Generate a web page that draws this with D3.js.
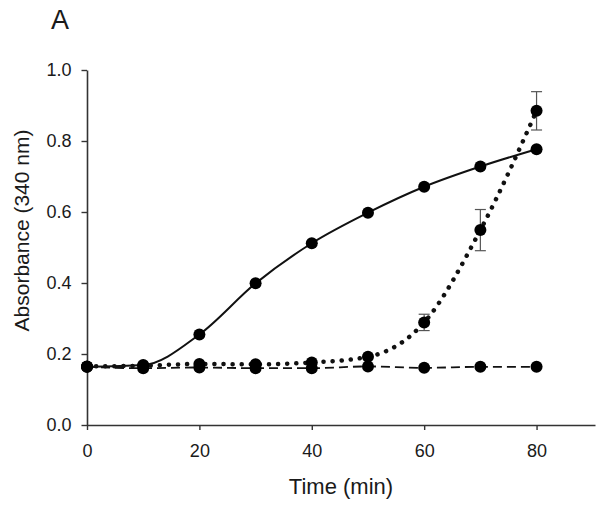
<!DOCTYPE html>
<html>
<head>
<meta charset="utf-8">
<script src="https://cdn.jsdelivr.net/npm/d3@7"></script>
<style>
  html, body { margin: 0; padding: 0; background: #fff; }
  svg { display: block; font-family: "Liberation Sans", Arial, sans-serif; }
</style>
</head>
<body>
<svg id="chart" width="602" height="507"></svg>
<script>
// ---- data ----
const times = [0, 10, 20, 30, 40, 50, 60, 70, 80];
const solidSeries = [0.164, 0.169, 0.255, 0.399, 0.512, 0.598, 0.671, 0.728, 0.777];
const dottedSeries = [0.165, 0.167, 0.172, 0.171, 0.176, 0.192, 0.289, 0.549, 0.885];
const dashedSeries = [0.164, 0.160, 0.162, 0.160, 0.160, 0.165, 0.161, 0.164, 0.164];
const dottedErrors = [null, null, null, null, null, null, 0.023, 0.058, 0.054];
const xTicks = [0, 20, 40, 60, 80];
const yTicks = [0.0, 0.2, 0.4, 0.6, 0.8, 1.0];
const panelLabel = "A";
const xLabel = "Time (min)";
const yLabel = "Absorbance (340 nm)";

// ---- layout ----
const svg = d3.select("#chart");
const mLeft = 87, mRight = 595, mTop = 70, mBottom = 425;
const x = d3.scaleLinear().domain([0, 90.4]).range([mLeft, mRight]);
const y = d3.scaleLinear().domain([0, 1]).range([mBottom, mTop]);

// axes
const xAxis = d3.axisBottom(x).tickValues(xTicks).tickSize(5).tickSizeOuter(0).tickPadding(14.5).tickFormat(d3.format("d"));
const yAxis = d3.axisLeft(y).tickValues(yTicks).tickSize(5.5).tickSizeOuter(0).tickPadding(10).tickFormat(d3.format(".1f"));

const gx = svg.append("g").attr("transform", `translate(0,${mBottom})`).call(xAxis);
const gy = svg.append("g").attr("transform", `translate(${mLeft},0)`).call(yAxis);
[gx, gy].forEach(g => {
  g.selectAll("path.domain").attr("stroke", "#333").attr("stroke-width", 1.6);
  g.selectAll(".tick line").attr("stroke", "#333").attr("stroke-width", 1.4);
  g.selectAll(".tick text").attr("fill", "#1a1a1a").style("font-size", "18px")
    .style("font-family", "'Liberation Sans', Arial, sans-serif");
});

// labels
svg.append("text").attr("x", 51).attr("y", 29.3).text(panelLabel)
  .style("font-size", "27px").attr("fill", "#1a1a1a");
svg.append("text").attr("x", 341).attr("y", 494).attr("text-anchor", "middle")
  .text(xLabel).style("font-size", "22px").attr("fill", "#1a1a1a");
svg.append("text").attr("transform", `translate(28.5,230.5) rotate(-90)`)
  .attr("text-anchor", "middle").text(yLabel).style("font-size", "21px").attr("fill", "#1a1a1a");

// lines
const line = d3.line().x((d, i) => x(times[i])).y(d => y(d)).curve(d3.curveMonotoneX);

svg.append("path").datum(dashedSeries).attr("d", line).attr("fill", "none")
  .attr("stroke", "#111").attr("stroke-width", 1.8).attr("stroke-dasharray", "9 5");
svg.append("path").datum(solidSeries).attr("d", line).attr("fill", "none")
  .attr("stroke", "#111").attr("stroke-width", 2);
svg.append("path").datum(dottedSeries).attr("d", line).attr("fill", "none")
  .attr("stroke", "#111").attr("stroke-width", 4.5).attr("stroke-linecap", "round")
  .attr("stroke-dasharray", "0.1 9");

// error bars
const errData = dottedSeries.map((v, i) => ({t: times[i], v, e: dottedErrors[i]})).filter(d => d.e != null);
const eg = svg.append("g").attr("stroke", "#555").attr("stroke-width", 1.2);
errData.forEach(d => {
  eg.append("line").attr("x1", x(d.t)).attr("x2", x(d.t)).attr("y1", y(d.v - d.e)).attr("y2", y(d.v + d.e));
  eg.append("line").attr("x1", x(d.t) - 5.5).attr("x2", x(d.t) + 5.5).attr("y1", y(d.v + d.e)).attr("y2", y(d.v + d.e));
  eg.append("line").attr("x1", x(d.t) - 5.5).attr("x2", x(d.t) + 5.5).attr("y1", y(d.v - d.e)).attr("y2", y(d.v - d.e));
});

// markers
[dashedSeries, dottedSeries, solidSeries].forEach(series => {
  svg.append("g").selectAll("circle").data(series).join("circle")
    .attr("cx", (d, i) => x(times[i])).attr("cy", d => y(d)).attr("r", 6).attr("fill", "#000");
});
</script>
</body>
</html>
